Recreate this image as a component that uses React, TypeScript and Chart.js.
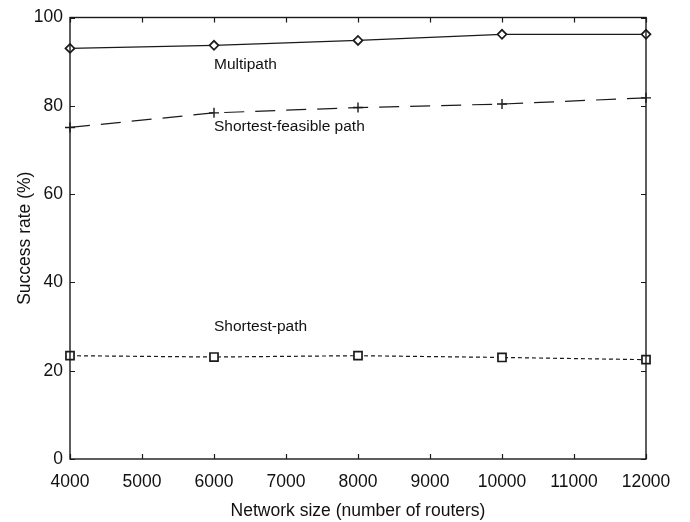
import React, { useEffect, useRef } from 'react';
import { Chart, registerables } from 'chart.js';

Chart.register(...registerables);

const networkSizes = [4000, 6000, 8000, 10000, 12000];
const multipath = [93.0, 93.7, 94.8, 96.2, 96.2];
const shortestFeasible = [75.1, 78.4, 79.6, 80.4, 81.8];
const shortestPath = [23.4, 23.1, 23.4, 23.0, 22.5];
const seriesNames = ['Multipath', 'Shortest-feasible path', 'Shortest-path'];
const annotationX = [6000, 6000, 6000];
const annotationY = [88.3, 74.2, 29.0];
const xTickStep = 1000;
const yTickStep = 20;

const FONT = '"Liberation Sans", Arial, Helvetica, sans-serif';
const INK = '#1a1a1a';

const framePlugin = {
  id: 'frameAndTicks',
  afterDraw(chart: any) {
    const { ctx, chartArea } = chart;
    const xs = chart.scales.x;
    const ys = chart.scales.y;
    const { left, right, top, bottom } = chartArea;
    ctx.save();
    ctx.strokeStyle = INK;
    ctx.lineWidth = 1.4;
    ctx.strokeRect(left, top, right - left, bottom - top);
    const tl = 5;
    ctx.lineWidth = 1.2;
    ctx.beginPath();
    for (let v = xs.min; v <= xs.max; v += xTickStep) {
      const px = Math.round(xs.getPixelForValue(v)) + 0.5;
      ctx.moveTo(px, bottom);
      ctx.lineTo(px, bottom - tl);
      ctx.moveTo(px, top);
      ctx.lineTo(px, top + tl);
    }
    for (let v = ys.min; v <= ys.max; v += yTickStep) {
      const py = Math.round(ys.getPixelForValue(v)) + 0.5;
      ctx.moveTo(left, py);
      ctx.lineTo(left + tl, py);
      ctx.moveTo(right, py);
      ctx.lineTo(right - tl, py);
    }
    ctx.stroke();
    // annotations
    ctx.fillStyle = '#111';
    ctx.font = `15.5px ${FONT}`;
    ctx.textAlign = 'left';
    ctx.textBaseline = 'alphabetic';
    seriesNames.forEach((name, i) => {
      ctx.fillText(name, xs.getPixelForValue(annotationX[i]), ys.getPixelForValue(annotationY[i]));
    });
    ctx.restore();
  },
};

export default function App() {
  const ref = useRef<HTMLCanvasElement | null>(null);
  useEffect(() => {
    document.body.style.margin = '0';
    const canvas = ref.current;
    if (!canvas) return;
    const toPts = (ys: number[]) => networkSizes.map((x, i) => ({ x, y: ys[i] }));
    const chart = new Chart(canvas, {
      type: 'line',
      data: {
        datasets: [
          {
            label: seriesNames[0],
            data: toPts(multipath),
            borderColor: INK,
            borderWidth: 1.2,
            pointStyle: 'rectRot',
            pointRadius: 4.5,
            pointBorderWidth: 1.7,
            pointBackgroundColor: '#fff',
            pointBorderColor: INK,
            clip: false,
          },
          {
            label: seriesNames[1],
            data: toPts(shortestFeasible),
            borderColor: INK,
            borderWidth: 1.2,
            borderDash: [20, 11],
            pointStyle: 'cross',
            pointRadius: 5,
            pointBorderWidth: 1.4,
            pointBorderColor: INK,
            clip: false,
          },
          {
            label: seriesNames[2],
            data: toPts(shortestPath),
            borderColor: INK,
            borderWidth: 1.2,
            borderDash: [4, 3],
            pointStyle: 'rect',
            pointRadius: 5.7,
            pointBorderWidth: 1.7,
            pointBackgroundColor: '#fff',
            pointBorderColor: INK,
            clip: false,
          },
        ] as any,
      },
      options: {
        animation: false,
        responsive: false,
        maintainAspectRatio: false,
        layout: { padding: { left: 0, right: 44, top: 14, bottom: 0 } },
        plugins: { legend: { display: false }, tooltip: { enabled: false } },
        scales: {
          x: {
            type: 'linear',
            min: 4000,
            max: 12000,
            grid: { display: false, drawTicks: false },
            border: { display: false },
            ticks: {
              stepSize: xTickStep,
              color: '#111',
              padding: 13,
              maxRotation: 0,
              font: { family: FONT, size: 17.5 },
              callback: (v: any) => String(v),
            },
            title: {
              display: true,
              text: 'Network size (number of routers)',
              color: '#111',
              font: { family: FONT, size: 17.5 },
              padding: { top: 0, bottom: 0 },
            },
            afterFit: (s: any) => { s.height = 63; },
          },
          y: {
            type: 'linear',
            min: 0,
            max: 100,
            grid: { display: false, drawTicks: false },
            border: { display: false },
            ticks: {
              stepSize: yTickStep,
              color: '#111',
              padding: 7,
              font: { family: FONT, size: 17.5 },
            },
            title: {
              display: true,
              text: 'Success rate (%)',
              color: '#111',
              font: { family: FONT, size: 17.5 },
              padding: { top: 15, bottom: 0 },
            },
            afterFit: (s: any) => { s.width = 70; },
          },
        },
      } as any,
      plugins: [framePlugin],
    });
    return () => chart.destroy();
  }, []);
  return (
    <div style={{ position: 'absolute', left: 0, top: 0, width: 690, height: 522, background: '#fff' }}>
      <canvas ref={ref} width={690} height={522} style={{ width: 690, height: 522, display: 'block' }} />
    </div>
  );
}
